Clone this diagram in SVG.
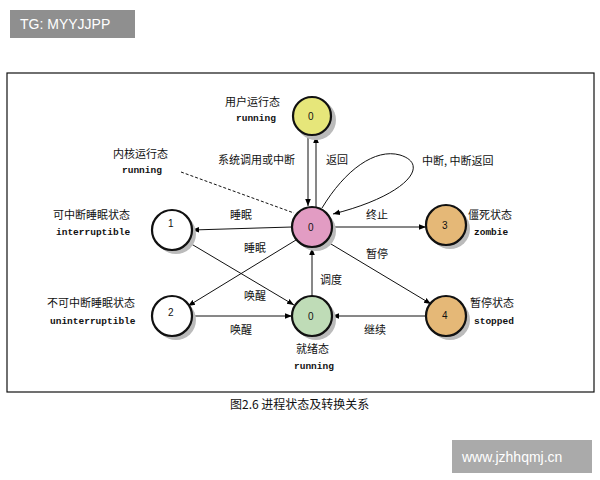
<svg xmlns="http://www.w3.org/2000/svg" width="600" height="480" viewBox="0 0 600 480">
<defs>
<marker id="ar" viewBox="0 0 10 10" refX="10" refY="5" markerWidth="7" markerHeight="7" orient="auto"><path d="M0,1 L10,5 L0,9 z" fill="#000"/></marker>
<style>
.n{stroke:#111;stroke-width:2.2}
.sh{fill:#bbb}
.c{stroke:#111;stroke-width:1;fill:none}
.t{font-family:"Noto Sans CJK SC",sans-serif;font-size:11px;fill:#111}
.m{font-family:"Liberation Mono",monospace;font-size:9.5px;font-weight:bold;fill:#111}
.d{font-family:"Liberation Sans",sans-serif;font-size:10px;fill:#111}
</style>
</defs>
<rect width="600" height="480" fill="#fff"/>
<rect x="10" y="10" width="125" height="28" fill="#8f8f8f"/>
<text x="20" y="29" font-family="Liberation Sans,sans-serif" font-size="14" fill="#fff">TG: MYYJJPP</text>
<rect x="7" y="73" width="587" height="319" fill="none" stroke="#111" stroke-width="1.2"/>
<g id="connectors">
<line class="c" x1="308" y1="136" x2="308" y2="206" marker-end="url(#ar)"/>
<line class="c" x1="316" y1="207" x2="316" y2="136" marker-end="url(#ar)"/>
<path class="c" d="M322,208 C345,170 375,148 400,155 C432,165 405,196 333,214" marker-end="url(#ar)"/>
<line x1="181" y1="172" x2="294" y2="213" stroke="#111" stroke-dasharray="3,2"/>
<line class="c" x1="292" y1="227" x2="192" y2="230" marker-end="url(#ar)"/>
<line class="c" x1="332" y1="227" x2="426" y2="227" marker-end="url(#ar)"/>
<line class="c" x1="296" y1="240" x2="188" y2="306" marker-end="url(#ar)"/>
<line class="c" x1="188" y1="242" x2="294" y2="305" marker-end="url(#ar)"/>
<line class="c" x1="326" y1="241" x2="431" y2="304" marker-end="url(#ar)"/>
<line class="c" x1="312" y1="296" x2="312" y2="248" marker-end="url(#ar)"/>
<line class="c" x1="192" y1="316" x2="292" y2="316" marker-end="url(#ar)"/>
<line class="c" x1="426" y1="316" x2="332" y2="316" marker-end="url(#ar)"/>
</g>
<g id="user"><circle class="sh" cx="316" cy="120" r="20"/><circle class="n" cx="312" cy="116" r="19" fill="#e6e67a"/><text class="d" x="308" y="120">0</text><text class="t" x="225" y="106">用户运行态</text><text class="m" x="236" y="121">running</text></g>
<g id="kernel"><circle class="sh" cx="316" cy="231" r="20"/><circle class="n" cx="312" cy="227" r="20" fill="#e29cc3"/><text class="d" x="308" y="231">0</text><text class="t" x="113" y="158">内核运行态</text><text class="m" x="122" y="173">running</text></g>
<g id="s1"><circle class="sh" cx="176" cy="234" r="20"/><circle class="n" cx="172" cy="230" r="20" fill="#fff"/><text class="d" x="168" y="227">1</text><text class="t" x="53" y="219">可中断睡眠状态</text><text class="m" x="56" y="235">interruptible</text></g>
<g id="s3"><circle class="sh" cx="450" cy="229" r="20"/><circle class="n" cx="446" cy="225" r="20" fill="#e5b877"/><text class="d" x="442" y="229">3</text><text class="t" x="468" y="219">僵死状态</text><text class="m" x="474" y="235">zombie</text></g>
<g id="s2"><circle class="sh" cx="176" cy="320" r="20"/><circle class="n" cx="172" cy="316" r="20" fill="#fff"/><text class="d" x="168" y="316">2</text><text class="t" x="47" y="307">不可中断睡眠状态</text><text class="m" x="50" y="324">uninterruptible</text></g>
<g id="ready"><circle class="sh" cx="316" cy="320" r="20"/><circle class="n" cx="312" cy="316" r="20" fill="#bfdcb7"/><text class="d" x="308" y="320">0</text><text class="t" x="296" y="353">就绪态</text><text class="m" x="294" y="369">running</text></g>
<g id="s4"><circle class="sh" cx="450" cy="320" r="20"/><circle class="n" cx="446" cy="316" r="20" fill="#e5b877"/><text class="d" x="442" y="319">4</text><text class="t" x="470" y="307">暂停状态</text><text class="m" x="474" y="324">stopped</text></g>
<g id="labels">
<text class="t" x="218" y="164">系统调用或中断</text>
<text class="t" x="326" y="164">返回</text>
<text class="t" x="422" y="165">中断, 中断返回</text>
<text class="t" x="230" y="219">睡眠</text>
<text class="t" x="366" y="219">终止</text>
<text class="t" x="244" y="252">睡眠</text>
<text class="t" x="366" y="258">暂停</text>
<text class="t" x="320" y="284">调度</text>
<text class="t" x="244" y="300">唤醒</text>
<text class="t" x="230" y="334">唤醒</text>
<text class="t" x="364" y="334">继续</text>
</g>
<text x="230" y="409" font-family="Noto Sans CJK SC,sans-serif" font-size="12" fill="#111">图2.6 进程状态及转换关系</text>
<rect x="452" y="440" width="140" height="33" fill="#aaa"/>
<text x="462" y="462" font-family="Liberation Sans,sans-serif" font-size="14" fill="#fff">www.jzhhqmj.cn</text>
</svg>
